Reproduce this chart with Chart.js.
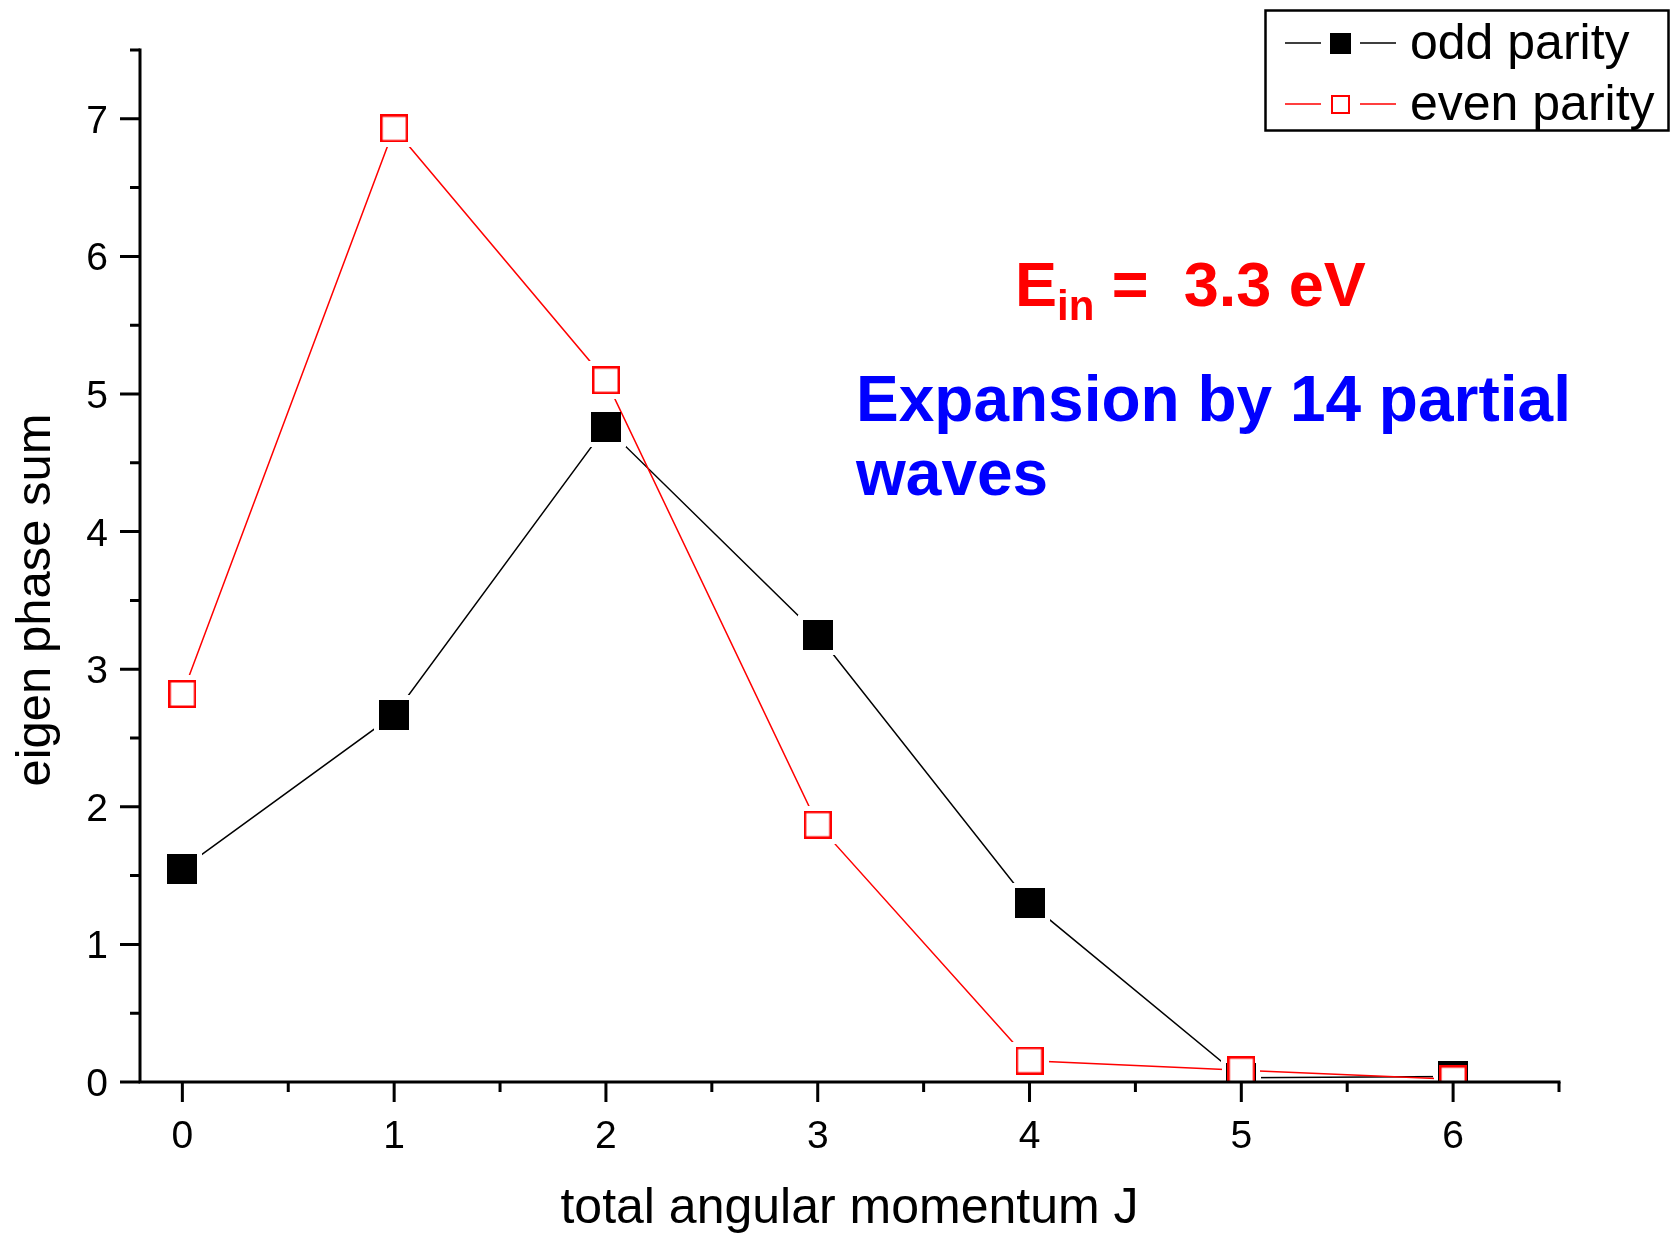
<!DOCTYPE html>
<html>
<head>
<meta charset="utf-8">
<title>eigen phase sum</title>
<script src="https://cdn.jsdelivr.net/npm/chart.js@4/dist/chart.umd.min.js"></script>
<style>
  html, body { margin: 0; padding: 0; background: #fff; }
  #wrap { width: 1671px; height: 1236px; }
</style>
</head>
<body>
<div id="wrap"><canvas id="phaseChart" width="1671" height="1236"></canvas></div>
<script>
/* ---------------------------------
   DATA
--------------------------------- */
const jValues = [0, 1, 2, 3, 4, 5, 6];
const oddParity = [1.55, 2.67, 4.76, 3.25, 1.30, 0.03, 0.04];
const evenParity = [2.82, 6.93, 5.10, 1.87, 0.155, 0.085, 0.02];
const seriesLabels = ["odd parity", "even parity"];

const xMajorTicks = [0, 1, 2, 3, 4, 5, 6];
const xMinorTicks = [0.5, 1.5, 2.5, 3.5, 4.5, 5.5, 6.5];
const yMajorTicks = [0, 1, 2, 3, 4, 5, 6, 7];
const yMinorTicks = [0.5, 1.5, 2.5, 3.5, 4.5, 5.5, 6.5, 7.5];

const xTitle = "total angular momentum J";
const yTitle = "eigen phase sum";

const FONT = "'Liberation Sans', Arial, sans-serif";
const RED = "#ff0000";
const BLUE = "#0000ff";

/* ---------------------------------
   MARKERS
--------------------------------- */
function squareCanvas(size, fill, stroke, lw) {
  const c = document.createElement("canvas");
  c.width = size;
  c.height = size;
  const g = c.getContext("2d");
  g.fillStyle = fill;
  g.fillRect(0, 0, size, size);
  if (stroke) {
    g.strokeStyle = stroke;
    g.lineWidth = lw;
    g.strokeRect(lw / 2, lw / 2, size - lw, size - lw);
  }
  return c;
}

// white squares under the markers leave the little gap around each symbol
const oddHalo = squareCanvas(40, "#fff");
const evenHalo = squareCanvas(38, "#fff");
const oddMarker = squareCanvas(30, "#000");
const evenMarker = squareCanvas(28, "#fff", RED, 2.5);

const toXY = (ys) => jValues.map((x, i) => ({ x, y: ys[i] }));

/* ---------------------------------
   AXES, TEXT, LEGEND
--------------------------------- */
const frame = {
  id: "frame",
  afterDraw(chart) {
    const { ctx, chartArea } = chart;
    const xs = chart.scales.x;
    const ys = chart.scales.y;
    const x0 = chartArea.left;
    const y0 = chartArea.bottom;

    ctx.save();
    ctx.strokeStyle = "#000";
    ctx.lineWidth = 3;
    ctx.lineCap = "butt";

    ctx.beginPath();
    ctx.moveTo(x0, ys.getPixelForValue(7.5) - 1.5);
    ctx.lineTo(x0, y0 + 1.5);
    ctx.moveTo(x0 - 1.5, y0);
    ctx.lineTo(chartArea.right + 1.5, y0);
    ctx.stroke();

    ctx.beginPath();
    yMajorTicks.forEach((v) => {
      const y = ys.getPixelForValue(v);
      ctx.moveTo(x0 - 20, y);
      ctx.lineTo(x0, y);
    });
    yMinorTicks.forEach((v) => {
      const y = ys.getPixelForValue(v);
      ctx.moveTo(x0 - 10, y);
      ctx.lineTo(x0, y);
    });
    xMajorTicks.forEach((v) => {
      const x = xs.getPixelForValue(v);
      ctx.moveTo(x, y0);
      ctx.lineTo(x, y0 + 20);
    });
    xMinorTicks.forEach((v) => {
      const x = xs.getPixelForValue(v);
      ctx.moveTo(x, y0);
      ctx.lineTo(x, y0 + 10);
    });
    ctx.stroke();

    // tick labels
    ctx.fillStyle = "#000";
    ctx.font = `39px ${FONT}`;
    ctx.textBaseline = "alphabetic";
    ctx.textAlign = "right";
    yMajorTicks.forEach((v) => {
      ctx.fillText(String(v), x0 - 32, ys.getPixelForValue(v) + 14);
    });
    ctx.textAlign = "center";
    xMajorTicks.forEach((v) => {
      ctx.fillText(String(v), xs.getPixelForValue(v), y0 + 66);
    });

    // axis titles
    ctx.font = `50px ${FONT}`;
    ctx.fillText(xTitle, (chartArea.left + chartArea.right) / 2, 1223);
    ctx.font = `49px ${FONT}`;
    ctx.save();
    ctx.translate(50, 600);
    ctx.rotate(-Math.PI / 2);
    ctx.fillText(yTitle, 0, 0);
    ctx.restore();

    // energy label with subscript
    ctx.textAlign = "left";
    ctx.fillStyle = RED;
    let x = 1015;
    ctx.font = `bold 63px ${FONT}`;
    ctx.fillText("E", x, 306);
    x += ctx.measureText("E").width;
    ctx.font = `bold 42px ${FONT}`;
    ctx.fillText("in", x, 320);
    x += ctx.measureText("in").width;
    ctx.font = `bold 63px ${FONT}`;
    ctx.fillText(" =  3.3 eV", x, 306);

    ctx.fillStyle = BLUE;
    ctx.font = `bold 64px ${FONT}`;
    ctx.fillText("Expansion by 14 partial", 856, 421);
    ctx.fillText("waves", 856, 495);

    // legend
    ctx.lineWidth = 2.5;
    ctx.strokeStyle = "#000";
    ctx.strokeRect(1265.5, 10.5, 403, 120);

    const rows = [
      { y: 43, color: "#000", label: seriesLabels[0], hollow: false },
      { y: 104, color: RED, label: seriesLabels[1], hollow: true }
    ];
    rows.forEach((r) => {
      ctx.strokeStyle = r.color;
      ctx.lineWidth = 1.5;
      ctx.beginPath();
      ctx.moveTo(1285, r.y);
      ctx.lineTo(1321, r.y);
      ctx.moveTo(1360, r.y);
      ctx.lineTo(1396, r.y);
      ctx.stroke();
      if (r.hollow) {
        ctx.lineWidth = 2;
        ctx.strokeRect(1332, r.y - 8, 17, 17);
      } else {
        ctx.fillStyle = r.color;
        ctx.fillRect(1330, r.y - 10, 21, 21);
      }
      ctx.fillStyle = "#000";
      ctx.font = `50px ${FONT}`;
      ctx.fillText(r.label, 1410, r.y + 16);
    });

    ctx.restore();
  }
};

/* ---------------------------------
   CHART
--------------------------------- */
const ctx = document.getElementById("phaseChart").getContext("2d");
new Chart(ctx, {
  type: "line",
  data: {
    datasets: [
      {
        label: seriesLabels[0],
        data: toXY(oddParity),
        borderColor: "#000",
        borderWidth: 1.5,
        pointStyle: oddHalo,
        pointRadius: 20,
        clip: 0,
        order: 4
      },
      {
        label: seriesLabels[1],
        data: toXY(evenParity),
        borderColor: RED,
        borderWidth: 1.5,
        pointStyle: evenHalo,
        pointRadius: 20,
        clip: 0,
        order: 3
      },
      {
        label: seriesLabels[0],
        data: toXY(oddParity),
        showLine: false,
        pointStyle: oddMarker,
        pointRadius: 20,
        clip: 0,
        order: 2
      },
      {
        label: seriesLabels[1],
        data: toXY(evenParity),
        showLine: false,
        pointStyle: evenMarker,
        pointRadius: 20,
        clip: 0,
        order: 1
      }
    ]
  },
  options: {
    responsive: false,
    devicePixelRatio: 1,
    animation: false,
    events: [],
    layout: { padding: { left: 140, right: 112, top: 50, bottom: 154 } },
    plugins: {
      legend: { display: false },
      tooltip: { enabled: false },
      title: { display: false }
    },
    scales: {
      x: { type: "linear", min: -0.2, max: 6.5, display: false },
      y: { type: "linear", min: 0, max: 7.5, display: false }
    }
  },
  plugins: [frame]
});
</script>
</body>
</html>
